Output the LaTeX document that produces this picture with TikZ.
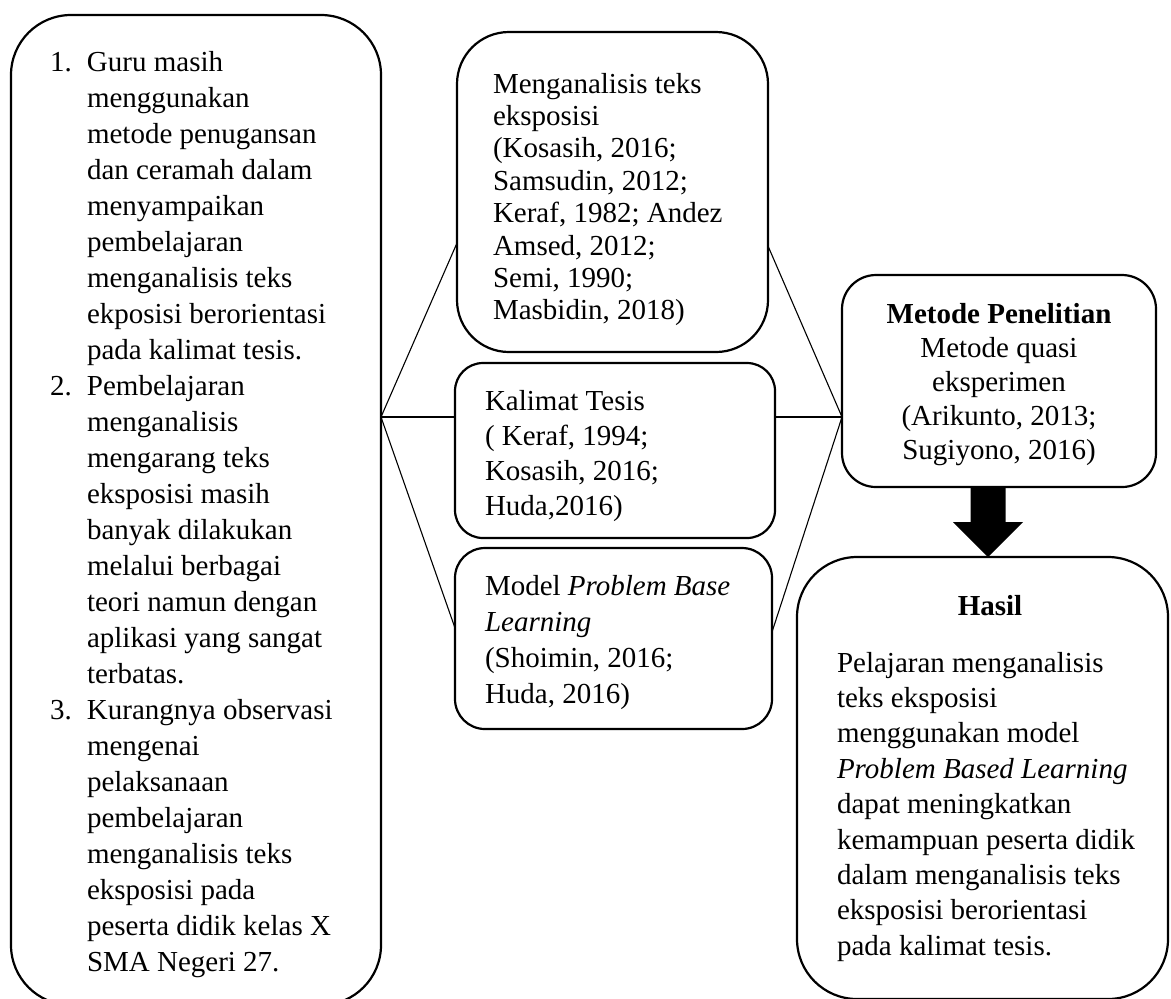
\documentclass[tikz,border=0pt]{standalone}
\usepackage{fontspec}
\setmainfont{Liberation Serif}
\newcommand\lnumbox[1]{\makebox[18.5pt][l]{#1}}
\begin{document}
\begin{tikzpicture}[x=0.5pt,y=-0.5pt,
  box/.style={draw, line width=1.1pt, rounded corners=#1, inner sep=0pt, outer sep=0pt},
  conn/.style={line width=0.55pt},
  txt/.style={inner sep=0pt, outer sep=0pt, anchor=base west},
  ctxt/.style={inner sep=0pt, outer sep=0pt, anchor=base},
]
\useasboundingbox (0,0) rectangle (1171,998);

% boxes
\node[box=30pt, minimum width=185pt, minimum height=495pt] (left) at (196,510) {};
\node[box=26pt, minimum width=155.5pt, minimum height=160pt] (men) at (612.5,192) {};
\node[box=14pt, minimum width=160pt, minimum height=87.5pt] (kal) at (615,450.5) {};
\node[box=15pt, minimum width=158.5pt, minimum height=90.5pt] (mod) at (613.5,638.5) {};
\node[box=17pt, minimum width=157pt, minimum height=106pt] (met) at (999,381) {};
\node[box=30pt, minimum width=185.5pt, minimum height=221pt] (has) at (982.5,778) {};

% texts
\node[txt, font=\fontsize{14.5}{18}\selectfont] (leftT) at (50,71) {\begin{tabular}[t]{@{}l@{}}
\lnumbox{1.}Guru masih\\
\lnumbox{}menggunakan\\
\lnumbox{}metode penugansan\\
\lnumbox{}dan ceramah dalam\\
\lnumbox{}menyampaikan\\
\lnumbox{}pembelajaran\\
\lnumbox{}menganalisis teks\\
\lnumbox{}ekposisi berorientasi\\
\lnumbox{}pada kalimat tesis.\\
\lnumbox{2.}Pembelajaran\\
\lnumbox{}menganalisis\\
\lnumbox{}mengarang teks\\
\lnumbox{}eksposisi masih\\
\lnumbox{}banyak dilakukan\\
\lnumbox{}melalui berbagai\\
\lnumbox{}teori namun dengan\\
\lnumbox{}aplikasi yang sangat\\
\lnumbox{}terbatas.\\
\lnumbox{3.}Kurangnya observasi\\
\lnumbox{}mengenai\\
\lnumbox{}pelaksanaan\\
\lnumbox{}pembelajaran\\
\lnumbox{}menganalisis teks\\
\lnumbox{}eksposisi pada\\
\lnumbox{}peserta didik kelas X\\
\lnumbox{}SMA Negeri 27.
\end{tabular}};

\node[txt, font=\fontsize{14.5}{16.2}\selectfont] (menT) at (493,93) {\begin{tabular}[t]{@{}l@{}}
Menganalisis teks\\
eksposisi\\
(Kosasih, 2016;\\
Samsudin, 2012;\\
Keraf, 1982; Andez\\
Amsed, 2012;\\
Semi, 1990;\\
Masbidin, 2018)
\end{tabular}};

\node[txt, font=\fontsize{14.5}{17.5}\selectfont] (kalT) at (485,410) {\begin{tabular}[t]{@{}l@{}}
Kalimat Tesis\\
( Keraf, 1994;\\
Kosasih, 2016;\\
Huda,2016)
\end{tabular}};

\node[txt, font=\fontsize{14.5}{18}\selectfont] (modT) at (485,595) {\begin{tabular}[t]{@{}l@{}}
Model \textit{Problem Base}\\
\textit{Learning}\\
(Shoimin, 2016;\\
Huda, 2016)
\end{tabular}};

\node[ctxt, font=\fontsize{14.5}{17.1}\selectfont] (metT) at (999,323) {\begin{tabular}[t]{@{}c@{}}
\textbf{Metode Penelitian}\\
Metode quasi\\
eksperimen\\
(Arikunto, 2013;\\
Sugiyono, 2016)
\end{tabular}};

\node[ctxt, font=\fontsize{14.5}{18}\selectfont\bfseries] (hasH) at (990,615) {Hasil};
\node[txt, font=\fontsize{14.5}{17.7}\selectfont] (hasT) at (837,672) {\begin{tabular}[t]{@{}l@{}}
Pelajaran menganalisis\\
teks eksposisi\\
menggunakan model\\
\textit{Problem Based Learning}\\
dapat meningkatkan\\
kemampuan peserta didik\\
dalam menganalisis teks\\
eksposisi berorientasi\\
pada kalimat tesis.
\end{tabular}};

% connectors
\coordinate (jl) at (left.east |- 0,417);
\coordinate (jr) at (met.west |- 0,417);
\draw[conn] (jl) -- (men.west |- 0,243);
\draw[conn] (jl) -- (kal.west |- jl);
\draw[conn] (jl) -- (mod.west |- 0,628);
\draw[conn] (men.east |- 0,246) -- (jr);
\draw[conn] (kal.east |- jr) -- (jr);
\draw[conn] (mod.east |- 0,632) -- (jr);

% block arrow
\coordinate (at) at (met.south -| 988,0);
\fill ([xshift=-8.75pt]at) -- ++(35,0) -- ++(0,35) -- ++(17.5,0)
  -- (has.north -| at) -- ++(-35,-35) -- ++(17.5,0) -- cycle;
\end{tikzpicture}
\end{document}
